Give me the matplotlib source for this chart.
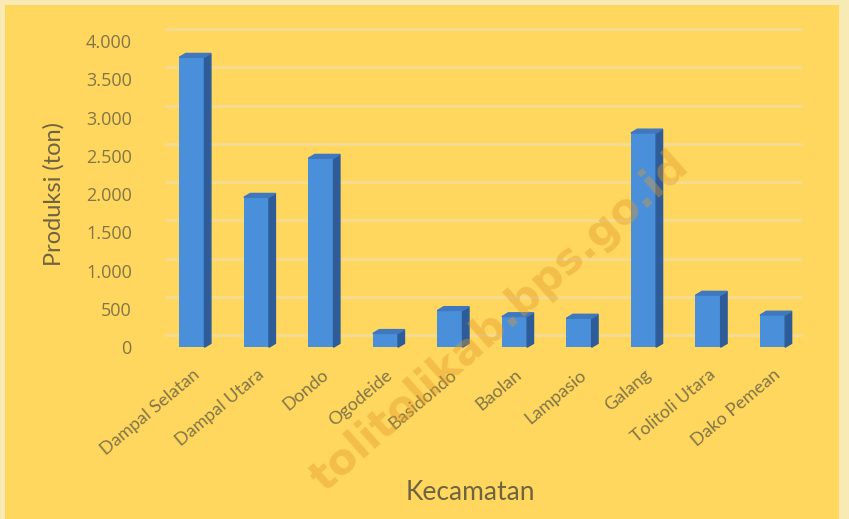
import matplotlib.pyplot as plt
from matplotlib.transforms import offset_copy

kecamatan = ['Dampal Selatan', 'Dampal Utara', 'Dondo', 'Ogodeide', 'Basidondo',
             'Baolan', 'Lampasio', 'Galang', 'Tolitoli Utara', 'Dako Pemean']
produksi = [3790, 1960, 2470, 180, 480, 400, 380, 2800, 680, 420]
y_ticks = [0, 500, 1000, 1500, 2000, 2500, 3000, 3500, 4000]
y_labels = ['0', '500', '1.000', '1.500', '2.000', '2.500', '3.000', '3.500', '4.000']

BG = '#FFD75E'
FRONT = '#4A8FDA'
SIDE = '#2D5C99'
TOP = '#3F78BF'
TXT = '#827648'

plt.rcParams['font.family'] = ['Lato', 'DejaVu Sans']

fig = plt.figure(figsize=(8.49, 5.19), dpi=100)
fig.patch.set_facecolor('#F8EAB4')
fig.add_artist(plt.Rectangle((0.006, 0.0), 0.982, 0.99, transform=fig.transFigure,
                             facecolor=BG, edgecolor='none', zorder=0))

ax = fig.add_axes([0.188, 0.331, 0.76, 0.5896])
ax.set_facecolor('none')
ax.set_xlim(-0.5, len(kecamatan) - 0.5)
ax.set_ylim(0, 4000)

# back wall gridlines, shifted up-right like the 3D chart
grid_tr = offset_copy(ax.get_yaxis_transform(), fig=fig, x=6, y=12, units='dots')
for v in y_ticks:
    ax.plot([0.0, 0.985], [v, v], transform=grid_tr, color='#F3DB93', lw=2, zorder=1,
            clip_on=False)

w = 0.39
dx = 0.10
dy = 50
x = list(range(len(kecamatan)))
ax.bar(x, produksi, width=w, color=FRONT, zorder=3)
for xi, v in zip(x, produksi):
    r = xi + w / 2
    l = xi - w / 2
    ax.fill([r, r + dx, r + dx, r], [0, dy, v + dy, v], color=SIDE, zorder=3, clip_on=False)
    ax.fill([l, l + dx, r + dx, r], [v, v + dy, v + dy, v], color=TOP, zorder=3, clip_on=False)

for s in ax.spines.values():
    s.set_visible(False)
ax.set_yticks(y_ticks)
ax.set_yticklabels(y_labels, color=TXT, fontsize=13, family=['Open Sans', 'DejaVu Sans'])
ax.tick_params(axis='y', length=0, pad=20)
ax.set_xticks(x)
ax.set_xticklabels(kecamatan, rotation=40, ha='right', rotation_mode='anchor',
                   color=TXT, fontsize=13)
ax.tick_params(axis='x', length=0, pad=14)

ax.set_ylabel('Produksi (ton)', color='#6E6440', fontsize=17)
ax.yaxis.set_label_coords(-0.148, 0.5)
ax.set_xlabel('Kecamatan', color='#6E6440', fontsize=19)
ax.xaxis.set_label_coords(0.482, -0.435)

fig.text(0.588, 0.38, 'tolitolikab.bps.go.id', rotation=41.5, ha='center', va='center',
         fontsize=31, fontweight='bold', color='#E09A2A', alpha=0.4,
         family='DejaVu Sans', zorder=10)

fig.savefig('out.png', dpi=100, facecolor=fig.get_facecolor())
